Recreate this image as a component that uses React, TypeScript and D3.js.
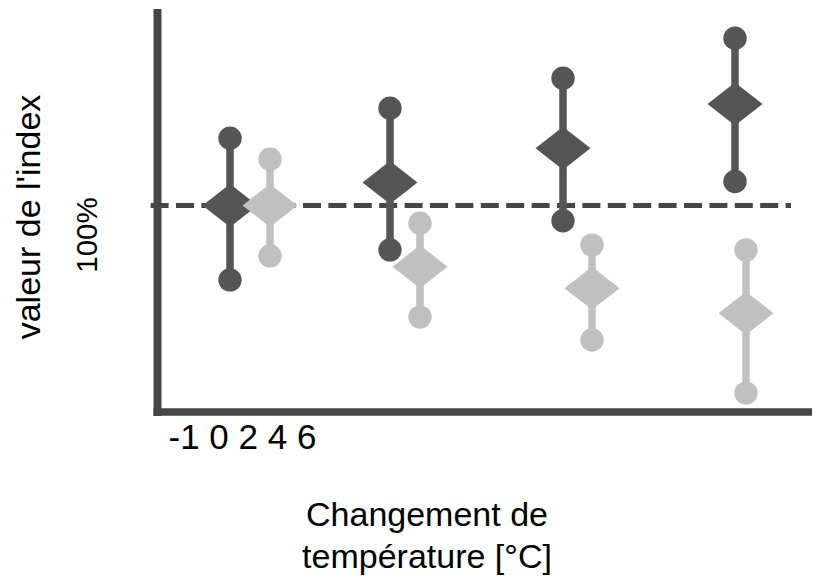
import React from 'react';
import * as d3 from 'd3';

// x position of each group (arbitrary units along the axis)
const darkX = [7.3, 23.3, 40.6, 57.8];
const lightX = [11.3, 26.3, 43.5, 58.9];

// index values (%), centre plus upper / lower bound
const darkMid = [100, 105.75, 114.3, 125.4];
const darkHigh = [116.8, 124.3, 131.8, 141.8];
const darkLow = [81.4, 88.9, 96.2, 106];

const lightMid = [100, 84.7, 79.3, 73.05];
const lightHigh = [111.55, 95.55, 90.1, 88.9];
const lightLow = [87.4, 72.1, 66.4, 53.1];

const tickLabels = ['-1', '0', '2', '4', '6'];
const refValue = 100;

const W = 814;
const H = 577;
const FONT = '"Liberation Sans", Arial, sans-serif';

const DARK = '#555555';
const LIGHT = '#c0c0c0';
const AXIS = '#464646';

const x = d3.scaleLinear().domain([0, 65.5]).range([157, 812]);
const y = d3.scaleLinear().domain([48, 149]).range([413.5, 9.5]);

const diamond = (cx: number, cy: number, hw = 27.5, hh = 21.5) => {
  const p = d3.path();
  p.moveTo(cx, cy - hh);
  p.lineTo(cx + hw, cy);
  p.lineTo(cx, cy + hh);
  p.lineTo(cx - hw, cy);
  p.closePath();
  return p.toString();
};

const Series = ({ xs, mid, high, low, color }: any) => (
  <g>
    {xs.map((xv: number, i: number) => {
      const cx = x(xv);
      return (
        <g key={i}>
          <line x1={cx} x2={cx} y1={y(high[i])} y2={y(low[i])} stroke={color} strokeWidth={7.5} />
          <circle cx={cx} cy={y(high[i])} r={11.7} fill={color} />
          <circle cx={cx} cy={y(low[i])} r={11.7} fill={color} />
          <path d={diamond(cx, y(mid[i]))} fill={color} />
        </g>
      );
    })}
  </g>
);

export default function App() {
  return (
    <svg
      width={W}
      height={H}
      style={{ position: 'absolute', left: 0, top: 0, background: '#fff' }}
      fontFamily={FONT}
    >
      {/* reference line at 100% */}
      <line
        x1={150.6}
        x2={x(63.4)}
        y1={y(refValue)}
        y2={y(refValue)}
        stroke={AXIS}
        strokeWidth={4.8}
        strokeDasharray="18 7.4"
      />

      <Series xs={darkX} mid={darkMid} high={darkHigh} low={darkLow} color={DARK} />
      <Series xs={lightX} mid={lightMid} high={lightHigh} low={lightLow} color={LIGHT} />

      {/* axes */}
      <line x1={157.5} x2={157.5} y1={9} y2={416} stroke={AXIS} strokeWidth={8} />
      <line x1={153.5} x2={x(65.5)} y1={412} y2={412} stroke={AXIS} strokeWidth={7.5} />

      {/* tick labels */}
      <text x={168.5} y={449} fontSize={35} fill="#000">
        {tickLabels.join(' ')}
      </text>

      {/* axis titles */}
      <text
        transform="translate(40,217) rotate(-90)"
        textAnchor="middle"
        fontSize={34}
        fill="#000"
      >
        valeur de l'index
      </text>
      <text
        transform="translate(97,235) rotate(-90)"
        textAnchor="middle"
        fontSize={29.5}
        fill="#000"
      >
        {refValue}%
      </text>
      <text textAnchor="middle" fontSize={34} fill="#000">
        <tspan x={427} y={526}>Changement de</tspan>
        <tspan x={427} y={568}>température [°C]</tspan>
      </text>
    </svg>
  );
}
